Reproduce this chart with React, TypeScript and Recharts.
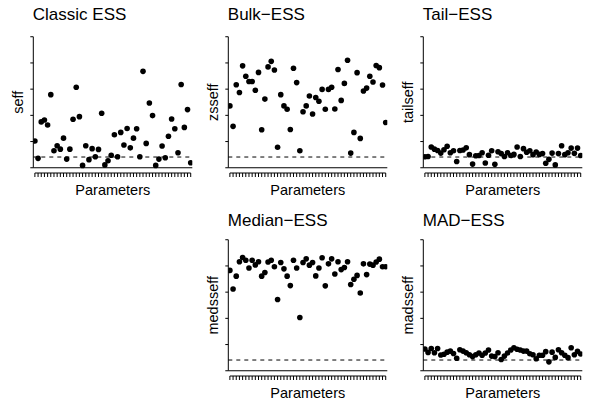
import React from 'react';
import { ComposedChart, Scatter, XAxis, YAxis, ReferenceLine } from 'recharts';

// relative efficiency per parameter, in y-tick units (ticks at 0..5)
const seff = [
  1.02, 0.36, 1.75, 1.82, 1.63, 2.79, 0.65, 0.84, 0.71, 1.13,
  0.33, 0.71, 1.85, 3.07, 1.95, 0.09, 0.84, 0.31, 0.73, 0.42,
  0.7, 2.08, 0.11, 0.27, 0.48, 1.26, 0.42, 1.35, 0.87, 1.5,
  0.76, 1.13, 1.49, 0.42, 3.68, 0.93, 2.47, 1.99, 0.09, 0.33,
  0.83, 0.38, 1.2, 1.86, 1.49, 0.57, 3.18, 1.54, 2.22, 0.19,
];
const zsseff = [
  2.36, 1.58, 3.17, 2.87, 3.89, 3.49, 3.29, 3.29, 2.96, 3.64,
  1.45, 2.62, 3.85, 4.06, 3.73, 0.78, 2.79, 2.36, 2.23, 1.46,
  3.8, 3.25, 0.65, 2.14, 2.36, 2.74, 2.05, 2.68, 2.54, 2.99,
  2.23, 2.99, 3.07, 2.24, 3.75, 2.57, 3.22, 4.1, 0.56, 1.35,
  3.63, 1.12, 2.93, 3.04, 3.49, 3.27, 3.9, 3.82, 3.16, 1.73,
];
const tailseff = [
  0.42, 0.43, 0.79, 0.71, 0.66, 0.56, 0.69, 0.82, 0.57, 0.65,
  0.24, 0.66, 0.68, 0.76, 0.5, 0.14, 0.46, 0.47, 0.57, 0.18,
  0.48, 0.65, 0.13, 0.61, 0.54, 0.43, 0.57, 0.47, 0.51, 0.79,
  0.43, 0.73, 0.59, 0.65, 0.5, 0.6, 0.51, 0.54, 0.17, 0.32,
  0.56, 0.11, 0.54, 0.84, 0.5, 0.57, 0.75, 0.55, 0.75, 0.47,
];
const medsseff = [
  3.83, 3.12, 3.61, 4.16, 4.32, 4.22, 3.92, 4.22, 4.04, 4.16,
  3.61, 3.75, 4.15, 4.22, 3.97, 2.72, 4.13, 3.89, 3.61, 3.25,
  4.22, 3.92, 2.03, 4.13, 4.27, 4.03, 4.13, 3.62, 3.92, 4.31,
  3.24, 4.08, 4.27, 3.69, 4.16, 3.86, 3.94, 4.16, 3.29, 3.49,
  3.64, 2.97, 4.08, 3.67, 4.07, 4.03, 4.15, 4.26, 3.97, 3.97,
];
const madsseff = [
  0.83, 0.7, 0.85, 0.69, 0.85, 0.6, 0.63, 0.71, 0.75, 0.66,
  0.48, 0.8, 0.75, 0.69, 0.61, 0.54, 0.61, 0.68, 0.59, 0.68,
  0.79, 0.56, 0.54, 0.69, 0.43, 0.56, 0.68, 0.79, 0.88, 0.82,
  0.79, 0.75, 0.75, 0.65, 0.61, 0.46, 0.59, 0.59, 0.73, 0.34,
  0.71, 0.51, 0.8, 0.69, 0.59, 0.5, 0.88, 0.61, 0.74, 0.64,
];

const yTicks = [0, 1, 2, 3, 4, 5];
const threshold = 0.41;

const FONT = '"Liberation Sans", Arial, Helvetica, sans-serif';
const W = 195;
const H = 200;
const PLOT_L = 33.3;
const PLOT_R = 2.7;
const PLOT_T = 31.5;
const AXIS_H = 27;
const plotW = W - PLOT_L - PLOT_R;
const plotH = H - PLOT_T - AXIS_H;

const Dot = (props: any) => <circle cx={props.cx} cy={props.cy} r={2.8} fill="#000" />;
const noLabel = () => '';

interface PanelProps {
  title: string;
  ylab: string;
  values: number[];
  left: number;
  top: number;
  titleY: number;
}

const Panel: React.FC<PanelProps> = ({ title, ylab, values, left, top, titleY }) => {
  const data = values.map((v, i) => ({ x: i + 1, y: v }));
  const xTicks = data.map((d) => d.x);
  const n = values.length;
  return (
    <div style={{ position: 'absolute', left, top, width: W, height: H }}>
      <ComposedChart
        width={W}
        height={H}
        data={data}
        margin={{ top: PLOT_T, right: PLOT_R, left: 0, bottom: 0 }}
      >
        <XAxis
          type="number"
          dataKey="x"
          domain={[0.5, n + 0.5]}
          ticks={xTicks}
          interval={0}
          tickFormatter={noLabel}
          tickSize={4}
          tickLine={{ stroke: '#000', strokeWidth: 1 }}
          axisLine={false}
          height={AXIS_H}
          allowDataOverflow
        />
        <YAxis
          type="number"
          dataKey="y"
          domain={[-0.2, 5.2]}
          ticks={yTicks}
          interval={0}
          tickFormatter={noLabel}
          tickSize={3}
          tickLine={{ stroke: '#000', strokeWidth: 1 }}
          axisLine={false}
          width={PLOT_L}
          allowDataOverflow
        />
        <ReferenceLine
          segment={[{ x: 0.5, y: yTicks[0] }, { x: 0.5, y: yTicks[yTicks.length - 1] }]}
          stroke="#000"
          strokeWidth={1}
        />
        <ReferenceLine
          segment={[{ x: 1, y: -0.2 }, { x: n, y: -0.2 }]}
          stroke="#000"
          strokeWidth={1}
        />
        <ReferenceLine y={0} stroke="#000" strokeWidth={1.2} />
        <ReferenceLine y={threshold} stroke="#000" strokeWidth={1} strokeDasharray="4 4" />
        <Scatter dataKey="y" shape={Dot} isAnimationActive={false} />
      </ComposedChart>
      <svg
        width={W}
        height={H}
        style={{ position: 'absolute', left: 0, top: 0, pointerEvents: 'none', fontFamily: FONT }}
      >
        <text x={PLOT_L - 0.5} y={titleY} fontSize={17} fill="#000">
          {title}
        </text>
        <text
          x={PLOT_L - 10.8}
          y={PLOT_T + plotH / 2}
          fontSize={14.5}
          fill="#000"
          textAnchor="middle"
          transform={`rotate(-90, ${PLOT_L - 10.8}, ${PLOT_T + plotH / 2})`}
        >
          {ylab}
        </text>
        <text x={PLOT_L + plotW / 2} y={194.5} fontSize={14.5} fill="#000" textAnchor="middle">
          Parameters
        </text>
      </svg>
    </div>
  );
};

export default function App() {
  return (
    <div
      style={{
        position: 'absolute',
        left: 0,
        top: 0,
        width: 592,
        height: 400,
        background: '#fff',
        overflow: 'hidden',
      }}
    >
      <Panel title="Classic ESS" ylab="seff" values={seff} left={0} top={0} titleY={20.3} />
      <Panel title="Bulk−ESS" ylab="zsseff" values={zsseff} left={195} top={0} titleY={20.3} />
      <Panel title="Tail−ESS" ylab="tailseff" values={tailseff} left={390} top={0} titleY={20.3} />
      <Panel title="Median−ESS" ylab="medsseff" values={medsseff} left={195} top={203} titleY={23.3} />
      <Panel title="MAD−ESS" ylab="madsseff" values={madsseff} left={390} top={203} titleY={23.3} />
    </div>
  );
}
